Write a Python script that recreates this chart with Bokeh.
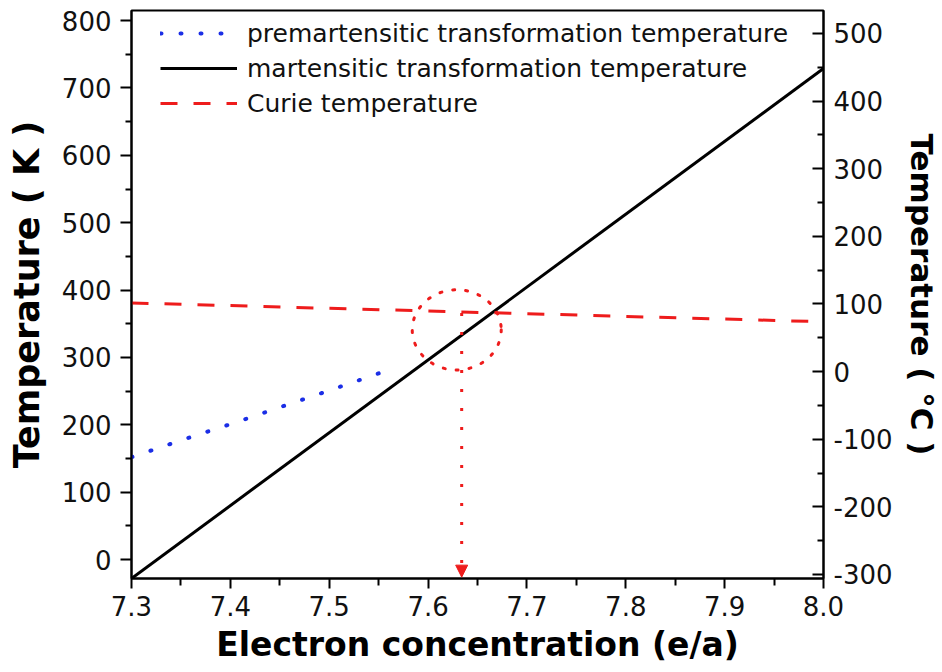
from bokeh.plotting import figure
from bokeh.models import (Range1d, LinearAxis, FixedTicker, Legend, LegendItem,
                          Arrow, NormalHead)
from bokeh.embed import file_html
from bokeh.resources import INLINE

# ---- data ----
ea_mart = [7.30, 8.00]
t_mart = [-28, 729]

ea_curie = [7.30, 8.00]
t_curie = [381, 353]

ea_premart = [7.30, 7.35, 7.40, 7.45, 7.50, 7.565]
t_premart = [152, 177, 201, 226, 251, 284]

circle_x = [7.629]
circle_y = [341]
circle_w = [0.090]
circle_h = [119]

arrow_x = 7.634
arrow_y_start = 366
arrow_y_end = -26

x_ticks = [7.3, 7.4, 7.5, 7.6, 7.7, 7.8, 7.9, 8.0]
x_minor = [7.35, 7.45, 7.55, 7.65, 7.75, 7.85, 7.95]
yk_ticks = [0, 100, 200, 300, 400, 500, 600, 700, 800]
yk_minor = [50, 150, 250, 350, 450, 550, 650, 750]
yc_ticks = [-300, -200, -100, 0, 100, 200, 300, 400, 500]
yc_minor = [-250, -150, -50, 50, 150, 250, 350, 450]

FONT = "DejaVu Sans"
RED = "#ee1c1c"
BLUE = "#1b2ee6"

p = figure(width=942, height=672, output_backend="svg", toolbar_location=None,
           x_range=Range1d(7.3, 8.0), y_range=Range1d(-28, 815),
           min_border_left=131, min_border_right=118, min_border_top=10,
           min_border_bottom=94)
p.extra_y_ranges = {"c": Range1d(-306, 534)}
p.xgrid.visible = False
p.ygrid.visible = False
p.outline_line_color = "black"
p.outline_line_width = 2
p.background_fill_color = "white"
p.border_fill_color = "white"

# lines
r_pre = p.line(ea_premart, t_premart, line_color=BLUE, line_width=4,
               line_dash="1 19", line_cap="round")
r_mart = p.line(ea_mart, t_mart, line_color="black", line_width=3)
r_cur = p.line(ea_curie, t_curie, line_color=RED, line_width=3,
               line_dash="17 16")

p.ellipse(x=circle_x, y=circle_y, width=circle_w, height=circle_h,
          fill_color=None, line_color=RED, line_width=3, line_dash="2 11",
          line_cap="round")

p.add_layout(Arrow(x_start=arrow_x, y_start=arrow_y_start, x_end=arrow_x,
                   y_end=arrow_y_end, line_color=RED, line_width=3,
                   line_dash="3 16",
                   end=NormalHead(size=12, fill_color=RED, line_color=RED)))

# axes styling
def style(ax, tick_size):
    ax.axis_line_width = 2
    ax.axis_line_color = "black"
    ax.major_tick_line_width = 2
    ax.minor_tick_line_width = 2
    ax.major_label_text_font = FONT
    ax.major_label_text_font_size = tick_size
    ax.major_label_text_color = "#111111"
    ax.axis_label_text_font = FONT
    ax.axis_label_text_font_style = "bold"
    ax.axis_label_text_color = "black"

xa = p.xaxis[0]
style(xa, "26px")
xa.ticker = FixedTicker(ticks=x_ticks, minor_ticks=x_minor)
xa.major_label_overrides = {t: f"{t:.1f}" for t in x_ticks}
xa.major_tick_in = 0
xa.major_tick_out = 10
xa.minor_tick_in = 0
xa.minor_tick_out = 7
xa.major_label_standoff = 7
xa.axis_label = "Electron concentration (e/a)"
xa.axis_label_text_font_size = "33px"
xa.axis_label_standoff = 6

ya = p.yaxis[0]
style(ya, "26px")
ya.ticker = FixedTicker(ticks=yk_ticks, minor_ticks=yk_minor)
ya.major_tick_in = 0
ya.major_tick_out = 11
ya.minor_tick_in = 0
ya.minor_tick_out = 6
ya.major_label_standoff = 9
ya.axis_label = "Temperature ( K )"
ya.axis_label_text_font_size = "35px"
ya.axis_label_standoff = 12

yr = LinearAxis(y_range_name="c")
style(yr, "26px")
yr.ticker = FixedTicker(ticks=yc_ticks, minor_ticks=yc_minor)
yr.major_label_overrides = {t: str(t) for t in yc_ticks}
yr.major_tick_in = 11
yr.major_tick_out = 0
yr.minor_tick_in = 6
yr.minor_tick_out = 0
yr.major_label_standoff = 10
yr.axis_label = "Temperature ( °C )"
yr.axis_label_text_font_size = "31px"
yr.axis_label_standoff = 8
p.add_layout(yr, "right")

legend = Legend(items=[
    LegendItem(label="premartensitic transformation temperature", renderers=[r_pre]),
    LegendItem(label="martensitic transformation temperature", renderers=[r_mart]),
    LegendItem(label="Curie temperature", renderers=[r_cur]),
], location=(29, 460))
legend.label_text_font = FONT
legend.label_text_font_size = "25px"
legend.label_text_color = "#111111"
legend.glyph_width = 77
legend.glyph_height = 30
legend.label_height = 30
legend.label_standoff = 10
legend.spacing = 5
legend.padding = 0
legend.margin = 0
legend.border_line_color = None
legend.background_fill_alpha = 0
p.add_layout(legend)

open("out.html", "w").write(file_html(p, INLINE))
